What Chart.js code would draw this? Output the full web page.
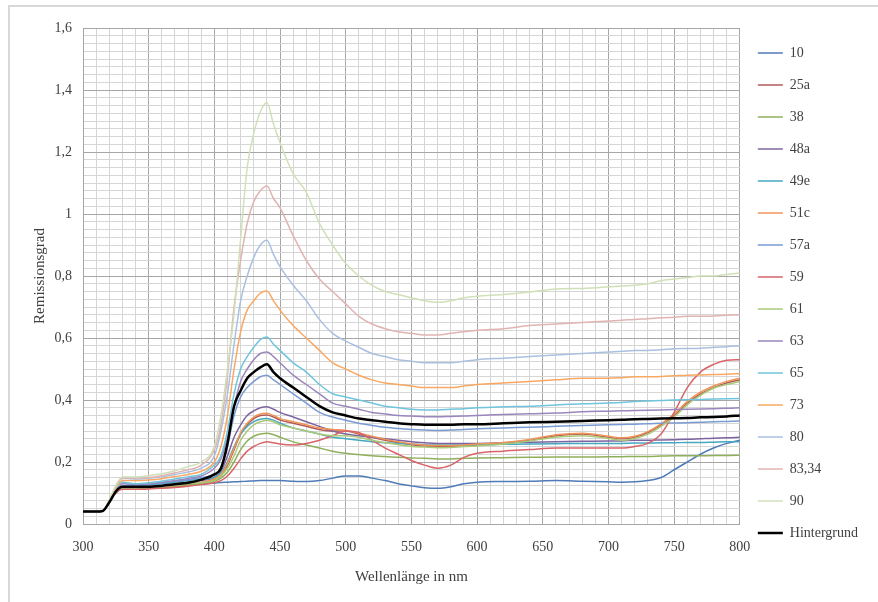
<!DOCTYPE html>
<html>
<head>
<meta charset="utf-8">
<script src="https://cdn.jsdelivr.net/npm/chart.js@4/dist/chart.umd.min.js"></script>
<style>
  body { margin: 0; background: #fff; overflow: hidden; }
  #frame { position: absolute; left: 8px; top: 5px; width: 900px; height: 700px; border: 2px solid #d8d8d8; }
  #chart { position: absolute; left: 0; top: 0; }
</style>
</head>
<body>
<div id="frame"></div>
<canvas id="chart" width="878" height="602"></canvas>
<script>
const wavelengths = [300, 310, 315, 320, 325, 330, 340, 350, 360, 370, 380, 390,
  400, 405, 410, 415, 420, 425, 430, 435, 440, 445, 450,
  460, 470, 480, 490, 500, 510, 520, 530, 540, 550, 560, 570, 580, 590, 600,
  620, 640, 660, 680, 700,
  710, 720, 730, 740, 750, 760, 770, 780, 790, 800];

const seriesNames = ['10', '25a', '38', '48a', '49e', '51c', '57a', '59', '61', '63', '65', '73', '80', '83,34', '90', 'Hintergrund'];

const s10 = [0.04, 0.04, 0.042, 0.07, 0.105, 0.12, 0.12, 0.12, 0.122, 0.125, 0.128, 0.13,
  0.132, 0.134, 0.135, 0.136, 0.137, 0.138, 0.139, 0.14, 0.14, 0.14, 0.14,
  0.138, 0.137, 0.14, 0.148, 0.155, 0.155, 0.148, 0.14, 0.13, 0.123, 0.117, 0.115, 0.12, 0.13, 0.135,
  0.137, 0.138, 0.14, 0.138, 0.136,
  0.135, 0.136, 0.14, 0.15, 0.175, 0.2, 0.225, 0.245, 0.26, 0.27];
const s25a = [0.04, 0.04, 0.042, 0.07, 0.1, 0.115, 0.115, 0.115, 0.118, 0.12, 0.125, 0.13,
  0.14, 0.155, 0.19, 0.24, 0.29, 0.32, 0.34, 0.35, 0.352, 0.345, 0.335,
  0.325, 0.315, 0.305, 0.3, 0.3, 0.29, 0.28, 0.27, 0.262, 0.256, 0.252, 0.25, 0.25, 0.252, 0.255,
  0.26, 0.27, 0.285, 0.29, 0.28,
  0.275, 0.28, 0.295, 0.32, 0.35, 0.39, 0.42, 0.44, 0.455, 0.465];
const s38 = [0.04, 0.04, 0.042, 0.07, 0.1, 0.115, 0.115, 0.115, 0.118, 0.122, 0.125, 0.13,
  0.138, 0.148, 0.168, 0.2, 0.24, 0.268, 0.283, 0.29, 0.293, 0.288, 0.28,
  0.265, 0.255, 0.245, 0.235, 0.228, 0.224, 0.22, 0.218, 0.215, 0.213, 0.212, 0.21, 0.21, 0.212, 0.213,
  0.214, 0.215, 0.216, 0.216, 0.217,
  0.217, 0.218, 0.218, 0.219, 0.22, 0.22, 0.22, 0.221, 0.221, 0.222];
const s48a = [0.04, 0.04, 0.042, 0.07, 0.105, 0.12, 0.12, 0.122, 0.125, 0.13, 0.135, 0.14,
  0.15, 0.17, 0.22, 0.28, 0.32, 0.35, 0.365, 0.375, 0.378, 0.37, 0.36,
  0.345, 0.33, 0.315, 0.3, 0.29, 0.285, 0.28, 0.275, 0.27, 0.265, 0.262, 0.26, 0.26, 0.26, 0.26,
  0.262, 0.264, 0.265, 0.267, 0.268,
  0.268, 0.27, 0.27, 0.271, 0.272, 0.273, 0.275, 0.277, 0.278, 0.28];
const s49e = [0.04, 0.04, 0.042, 0.07, 0.105, 0.122, 0.125, 0.127, 0.13, 0.135, 0.14, 0.145,
  0.15, 0.165, 0.2, 0.25, 0.29, 0.315, 0.33, 0.338, 0.34, 0.335, 0.325,
  0.31, 0.3, 0.29, 0.28, 0.275, 0.27, 0.265, 0.262, 0.26, 0.258, 0.256, 0.255, 0.255, 0.255, 0.256,
  0.257, 0.258, 0.259, 0.26, 0.26,
  0.26, 0.261, 0.261, 0.262, 0.262, 0.263, 0.263, 0.264, 0.265, 0.265];
const s51c = [0.04, 0.04, 0.042, 0.07, 0.105, 0.12, 0.118, 0.12, 0.122, 0.125, 0.13, 0.135,
  0.145, 0.16, 0.195, 0.245, 0.295, 0.325, 0.345, 0.355, 0.357, 0.35, 0.34,
  0.33, 0.32, 0.31, 0.305, 0.302, 0.293, 0.283, 0.273, 0.265, 0.259, 0.255, 0.253, 0.253, 0.255, 0.258,
  0.263, 0.273, 0.288, 0.293, 0.283,
  0.278, 0.283, 0.298, 0.323, 0.355, 0.395, 0.425, 0.445, 0.46, 0.47];
const s57a = [0.04, 0.04, 0.042, 0.07, 0.105, 0.122, 0.125, 0.128, 0.132, 0.138, 0.143, 0.15,
  0.16, 0.18, 0.25, 0.35, 0.41, 0.44, 0.46, 0.475, 0.48, 0.465, 0.45,
  0.42, 0.39, 0.36, 0.345, 0.335, 0.325, 0.318, 0.312, 0.308, 0.305, 0.303, 0.302, 0.303, 0.305, 0.307,
  0.31, 0.312, 0.315, 0.318, 0.32,
  0.321, 0.322, 0.323, 0.325, 0.326, 0.327, 0.328, 0.33, 0.331, 0.332];
const s59 = [0.04, 0.04, 0.042, 0.07, 0.1, 0.112, 0.112, 0.113, 0.115, 0.118, 0.122, 0.127,
  0.133, 0.14, 0.155, 0.18, 0.21, 0.235, 0.25, 0.26, 0.265, 0.262, 0.258,
  0.255, 0.26, 0.27, 0.285, 0.3, 0.295, 0.27, 0.245, 0.225, 0.205, 0.19, 0.18, 0.19, 0.215, 0.228,
  0.235, 0.24, 0.245, 0.245, 0.245,
  0.245, 0.25, 0.26, 0.29, 0.36, 0.44, 0.49, 0.515, 0.528, 0.53];
const s61 = [0.04, 0.04, 0.042, 0.07, 0.105, 0.118, 0.118, 0.12, 0.122, 0.126, 0.13, 0.134,
  0.14, 0.155, 0.18, 0.22, 0.27, 0.3, 0.32, 0.33, 0.335, 0.33, 0.32,
  0.31, 0.3, 0.29, 0.285, 0.285, 0.28, 0.27, 0.262, 0.256, 0.25, 0.248, 0.246, 0.247, 0.25, 0.252,
  0.258, 0.268, 0.28, 0.285, 0.276,
  0.27, 0.276, 0.29, 0.315, 0.345, 0.385, 0.415, 0.438, 0.45, 0.46];
const s63 = [0.04, 0.04, 0.042, 0.07, 0.108, 0.13, 0.128, 0.13, 0.135, 0.14, 0.147, 0.155,
  0.18, 0.21, 0.28, 0.38, 0.46, 0.5, 0.53, 0.55, 0.555, 0.54, 0.52,
  0.48, 0.45, 0.42, 0.39, 0.38, 0.37, 0.36, 0.355, 0.35, 0.348, 0.346, 0.346, 0.347, 0.348, 0.35,
  0.353, 0.356, 0.358, 0.362, 0.364,
  0.365, 0.366, 0.367, 0.368, 0.369, 0.37, 0.371, 0.372, 0.373, 0.375];
const s65 = [0.04, 0.04, 0.042, 0.07, 0.11, 0.135, 0.13, 0.133, 0.138, 0.145, 0.152, 0.16,
  0.19, 0.22, 0.3, 0.42, 0.5, 0.54, 0.57, 0.595, 0.603, 0.58, 0.56,
  0.52, 0.49, 0.45, 0.42, 0.41, 0.4, 0.39, 0.38, 0.375, 0.37, 0.368, 0.368, 0.37, 0.372, 0.375,
  0.378, 0.38, 0.384, 0.388, 0.39,
  0.392, 0.395, 0.397, 0.398, 0.4, 0.401, 0.402, 0.403, 0.404, 0.405];
const s73 = [0.04, 0.04, 0.042, 0.075, 0.115, 0.14, 0.14, 0.142, 0.146, 0.153, 0.16, 0.17,
  0.2, 0.25, 0.35, 0.5, 0.62, 0.69, 0.72, 0.745, 0.752, 0.72, 0.69,
  0.64, 0.6, 0.56, 0.52, 0.5, 0.48, 0.465, 0.455, 0.45, 0.445, 0.44, 0.44, 0.44, 0.445, 0.45,
  0.455, 0.46, 0.465, 0.47, 0.47,
  0.472, 0.475, 0.475, 0.476, 0.478, 0.48, 0.481, 0.482, 0.483, 0.485];
const s80 = [0.04, 0.04, 0.042, 0.075, 0.12, 0.148, 0.145, 0.148, 0.152, 0.16, 0.168, 0.18,
  0.22, 0.3, 0.42, 0.58, 0.72, 0.8, 0.86, 0.9, 0.915, 0.87, 0.83,
  0.77, 0.72, 0.66, 0.615, 0.59, 0.57, 0.55, 0.54, 0.53, 0.525, 0.52, 0.52, 0.52, 0.525, 0.53,
  0.535, 0.54, 0.545, 0.55, 0.555,
  0.557, 0.56, 0.56, 0.562, 0.565, 0.566, 0.567, 0.57, 0.572, 0.575];
const s8334 = [0.04, 0.04, 0.042, 0.075, 0.12, 0.15, 0.148, 0.15, 0.156, 0.165, 0.175, 0.19,
  0.24, 0.32, 0.48, 0.7, 0.85, 0.97, 1.04, 1.075, 1.09, 1.05, 1.02,
  0.93, 0.85, 0.79, 0.75, 0.71, 0.67, 0.645, 0.63, 0.62, 0.615, 0.61, 0.61, 0.615, 0.62, 0.625,
  0.63, 0.64, 0.645, 0.65, 0.655,
  0.657, 0.66, 0.662, 0.665, 0.667, 0.67, 0.67, 0.671, 0.673, 0.675];
const s90 = [0.04, 0.04, 0.042, 0.078, 0.125, 0.152, 0.152, 0.156, 0.162, 0.172, 0.185, 0.2,
  0.25, 0.35, 0.5, 0.68, 0.92, 1.15, 1.26, 1.33, 1.36, 1.29, 1.23,
  1.13, 1.07, 0.97, 0.9, 0.84, 0.8, 0.77, 0.75, 0.74, 0.73, 0.72, 0.715, 0.72, 0.73, 0.735,
  0.74, 0.748, 0.758, 0.76, 0.765,
  0.768, 0.77, 0.775, 0.785, 0.79, 0.795, 0.8, 0.8, 0.805, 0.81];
const sHintergrund = [0.04, 0.04, 0.042, 0.07, 0.105, 0.12, 0.12, 0.12, 0.123, 0.128, 0.133, 0.143,
  0.16, 0.18, 0.26, 0.38, 0.43, 0.47, 0.49, 0.505, 0.515, 0.49, 0.47,
  0.44, 0.41, 0.38, 0.36, 0.35, 0.34, 0.335, 0.33, 0.325, 0.322, 0.32, 0.32, 0.32, 0.322, 0.322,
  0.325, 0.328, 0.33, 0.332, 0.335,
  0.336, 0.338, 0.339, 0.34, 0.341, 0.342, 0.344, 0.345, 0.347, 0.35];

const seriesValues = [s10, s25a, s38, s48a, s49e, s51c, s57a, s59, s61, s63, s65, s73, s80, s8334, s90, sHintergrund];

const seriesColors = ['#4f7bb8', '#b05a56', '#8fb05a', '#7d64a0', '#45a8c0', '#f0955a',
  '#7a9ad4', '#d9646a', '#acc978', '#9a86bd', '#70c4dc', '#f8a862',
  '#aac0e0', '#e0b4b2', '#d0e0b8', '#000000'];

const majorGrid = '#a6a6a6';
const minorGrid = '#d6d6d6';
const textColor = '#404040';

function isMultiple(v, step) {
  const r = v / step;
  return Math.abs(r - Math.round(r)) < 1e-6;
}

const datasets = seriesNames.map((name, i) => ({
  label: name,
  data: wavelengths.map((x, j) => ({ x: x, y: seriesValues[i][j] })),
  borderColor: seriesColors[i],
  backgroundColor: seriesColors[i],
  borderWidth: name === 'Hintergrund' ? 2.5 : 1.5,
  pointRadius: 0,
  cubicInterpolationMode: 'monotone',
  order: seriesNames.length - i
}));

new Chart(document.getElementById('chart'), {
  type: 'line',
  data: { datasets: datasets },
  options: {
    responsive: false,
    animation: false,
    layout: { padding: { left: 20, right: 10, top: 28, bottom: 8 } },
    plugins: {
      tooltip: { enabled: false },
      legend: {
        position: 'right',
        align: 'start',
        labels: {
          usePointStyle: true,
          pointStyle: 'line',
          pointStyleWidth: 25,
          padding: 18,
          color: textColor,
          font: { family: 'Liberation Serif', size: 14 },
          sort: (a, b) => a.datasetIndex - b.datasetIndex
        }
      }
    },
    scales: {
      x: {
        type: 'linear',
        min: 300,
        max: 800,
        afterFit: scale => { scale.height = 70; },
        ticks: {
          stepSize: 10,
          autoSkip: false,
          maxRotation: 0,
          padding: 15,
          color: textColor,
          font: { family: 'Liberation Serif', size: 14 },
          callback: v => (v % 50 === 0 ? String(v) : '')
        },
        grid: {
          drawTicks: false,
          color: ctx => (ctx.tick && ctx.tick.value % 50 === 0 ? majorGrid : minorGrid)
        },
        border: { color: majorGrid },
        title: {
          display: true,
          text: 'Wellenlänge in nm',
          color: textColor,
          font: { family: 'Liberation Serif', size: 15 },
          padding: { top: 0, bottom: 8 }
        }
      },
      y: {
        min: 0,
        max: 1.6,
        afterFit: scale => { scale.width = 63; },
        ticks: {
          stepSize: 0.025,
          autoSkip: false,
          padding: 11,
          color: textColor,
          font: { family: 'Liberation Serif', size: 14 },
          callback: v => {
            const r = Math.round(v * 1000) / 1000;
            return isMultiple(r, 0.2) ? String(r).replace('.', ',') : '';
          }
        },
        grid: {
          drawTicks: false,
          color: ctx => (ctx.tick && isMultiple(ctx.tick.value, 0.2) ? majorGrid : minorGrid)
        },
        border: { color: majorGrid },
        title: {
          display: true,
          text: 'Remissionsgrad',
          color: textColor,
          font: { family: 'Liberation Serif', size: 15 },
          padding: { top: 11, bottom: 0 }
        }
      }
    }
  }
});
</script>
</body>
</html>
